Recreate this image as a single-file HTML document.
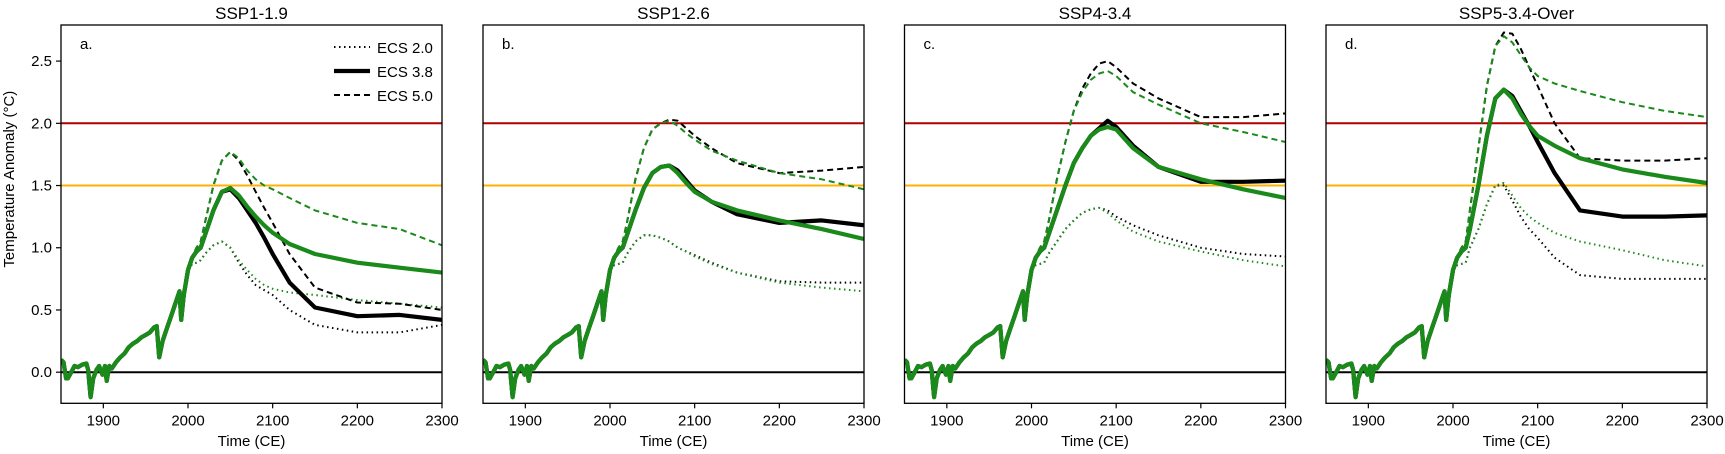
<!DOCTYPE html>
<html><head><meta charset="utf-8"><style>
body{margin:0;background:#fff;}
svg{display:block;font-family:"Liberation Sans","DejaVu Sans",sans-serif;}
</style></head><body>
<svg id="chart" width="1725" height="454" viewBox="0 0 1725 454" xmlns="http://www.w3.org/2000/svg"></svg>
<script>
// ---- data ----
const panelTitles = ["SSP1-1.9","SSP1-2.6","SSP4-3.4","SSP5-3.4-Over"];
const panelLetters = ["a.","b.","c.","d."];
const histYears = [1850,1853,1856,1858,1862,1866,1870,1875,1880,1882,1885,1888,1892,1895,1899,1902,1904,1907,1910,1915,1920,1925,1930,1935,1940,1945,1950,1955,1960,1963,1966,1970,1975,1980,1985,1990,1992,1995,2000];
const histVals = [0.1,0.08,-0.05,-0.05,0.0,0.05,0.04,0.06,0.07,0.02,-0.2,-0.05,0.02,0.05,-0.02,0.05,-0.07,0.05,0.03,0.08,0.12,0.15,0.2,0.23,0.25,0.28,0.3,0.32,0.36,0.37,0.12,0.25,0.35,0.45,0.55,0.65,0.42,0.62,0.82];
const scenYears = [2005,2010,2015,2020,2030,2040,2050,2060,2070,2080,2090,2100,2120,2150,2200,2250,2300];
// ECS 2.0 dotted (t), ECS 3.8 solid (s), ECS 5.0 dashed (d); k=black, g=green
const a_ks=[0.92,0.97,1.0,1.1,1.3,1.45,1.47,1.4,1.3,1.2,1.08,0.95,0.72,0.52,0.45,0.46,0.42];
const a_gs=[0.92,0.97,1.0,1.1,1.3,1.45,1.48,1.42,1.33,1.25,1.18,1.12,1.03,0.95,0.88,0.84,0.8];
const a_kd=[0.93,1.0,1.05,1.2,1.5,1.7,1.77,1.7,1.58,1.45,1.32,1.2,0.95,0.68,0.56,0.55,0.5];
const a_gd=[0.93,1.0,1.05,1.2,1.5,1.7,1.77,1.72,1.62,1.55,1.5,1.47,1.4,1.3,1.2,1.15,1.02];
const a_kt=[0.87,0.88,0.9,0.95,1.02,1.05,1.0,0.88,0.78,0.7,0.66,0.62,0.5,0.38,0.32,0.32,0.38];
const a_gt=[0.87,0.88,0.9,0.95,1.02,1.05,1.0,0.9,0.82,0.75,0.7,0.67,0.64,0.62,0.58,0.55,0.52];
const b_ks=[0.92,0.97,1.0,1.1,1.3,1.48,1.6,1.65,1.66,1.62,1.54,1.46,1.37,1.27,1.2,1.22,1.18];
const b_gs=[0.92,0.97,1.0,1.1,1.3,1.48,1.6,1.65,1.66,1.6,1.52,1.45,1.37,1.3,1.22,1.15,1.07];
const b_kd=[0.93,1.0,1.05,1.2,1.55,1.8,1.95,2.0,2.03,2.02,1.96,1.9,1.8,1.68,1.6,1.62,1.65];
const b_gd=[0.93,1.0,1.05,1.2,1.55,1.8,1.95,2.0,2.02,1.98,1.92,1.87,1.78,1.7,1.6,1.55,1.47];
const b_kt=[0.86,0.87,0.88,0.95,1.05,1.1,1.1,1.08,1.05,1.0,0.97,0.94,0.88,0.8,0.73,0.72,0.72];
const b_gt=[0.86,0.87,0.88,0.95,1.05,1.1,1.1,1.08,1.05,1.0,0.97,0.93,0.87,0.8,0.72,0.68,0.65];
const c_ks=[0.92,0.97,1.0,1.1,1.3,1.5,1.68,1.8,1.9,1.96,2.02,1.97,1.82,1.65,1.53,1.53,1.54];
const c_gs=[0.92,0.97,1.0,1.1,1.3,1.5,1.68,1.8,1.9,1.95,1.97,1.95,1.8,1.65,1.55,1.47,1.4];
const c_kd=[0.93,1.0,1.05,1.2,1.55,1.85,2.1,2.28,2.4,2.48,2.5,2.45,2.32,2.2,2.05,2.05,2.08];
const c_gd=[0.93,1.0,1.05,1.2,1.55,1.85,2.1,2.25,2.35,2.4,2.42,2.38,2.25,2.15,2.0,1.93,1.85];
const c_kt=[0.86,0.87,0.88,0.95,1.05,1.15,1.22,1.28,1.31,1.32,1.3,1.25,1.18,1.1,1.0,0.95,0.93];
const c_gt=[0.86,0.87,0.88,0.95,1.05,1.15,1.22,1.28,1.31,1.32,1.28,1.22,1.13,1.05,0.97,0.9,0.85];
const d_ks=[0.92,0.97,1.0,1.15,1.5,1.9,2.2,2.27,2.22,2.1,1.98,1.85,1.6,1.3,1.25,1.25,1.26];
const d_gs=[0.92,0.97,1.0,1.15,1.5,1.9,2.2,2.27,2.2,2.08,1.98,1.9,1.82,1.72,1.63,1.57,1.52];
const d_kd=[0.93,1.0,1.05,1.3,1.8,2.3,2.62,2.73,2.72,2.6,2.45,2.3,2.0,1.72,1.7,1.7,1.72];
const d_gd=[0.93,1.0,1.05,1.3,1.8,2.3,2.62,2.7,2.65,2.55,2.45,2.38,2.32,2.26,2.17,2.1,2.05];
const d_kt=[0.86,0.87,0.88,1.0,1.15,1.35,1.5,1.5,1.38,1.25,1.15,1.08,0.92,0.78,0.75,0.75,0.75];
const d_gt=[0.86,0.87,0.88,1.0,1.15,1.35,1.5,1.52,1.42,1.32,1.25,1.2,1.12,1.05,0.98,0.9,0.85];
const panelSeries = [
  {kt:a_kt,ks:a_ks,kd:a_kd,gt:a_gt,gs:a_gs,gd:a_gd},
  {kt:b_kt,ks:b_ks,kd:b_kd,gt:b_gt,gs:b_gs,gd:b_gd},
  {kt:c_kt,ks:c_ks,kd:c_kd,gt:c_gt,gs:c_gs,gd:c_gd},
  {kt:d_kt,ks:d_ks,kd:d_kd,gt:d_gt,gs:d_gs,gd:d_gd}
];
const xTicks = [1900,2000,2100,2200,2300];
const yTicks = [0.0,0.5,1.0,1.5,2.0,2.5];
const refLines = [{v:0,c:"#000"},{v:1.5,c:"#ffb000"},{v:2.0,c:"#b00000"}];
const legendLabels = ["ECS 2.0","ECS 3.8","ECS 5.0"];

// ---- layout ----
const NS="http://www.w3.org/2000/svg";
const svg=document.getElementById('chart');
const panelLeft=[61,483,904.5,1326], PW=381, PT=25, PB=403.3;
const XMIN=1850, XMAX=2300, YMIN=-0.25, YMAX=2.79;
function el(tag,attrs,parent){const e=document.createElementNS(NS,tag);for(const k in attrs)e.setAttribute(k,attrs[k]);(parent||svg).appendChild(e);return e;}
const styles={t:{w:2,da:"1.5,3.5"},s:{w:4.2,da:""},d:{w:2,da:"6,4"}};
const colors={k:"#000",g:"#1a8a1a"};

panelLeft.forEach((L,pi)=>{
  const xs=v=>L+(v-XMIN)/(XMAX-XMIN)*PW;
  const ys=v=>PB-(v-YMIN)/(YMAX-YMIN)*(PB-PT);
  const g=el('g',{});
  
  
  const t=el('text',{x:L+PW/2,y:19,'text-anchor':'middle','font-size':17},g);
  t.textContent=panelTitles[pi];
  
  
  const lt=el('text',{x:L+19,y:49,'font-size':15},g);
  lt.textContent=panelLetters[pi];
  
  
  const clipId='clip'+pi;
  const cp=el('clipPath',{id:clipId},g);el('rect',{x:L,y:PT,width:PW,height:PB-PT},cp);
  const plot=el('g',{'clip-path':'url(#'+clipId+')'},g);
  refLines.forEach(r=>{
    const ln=el('line',{x1:L,x2:L+PW,y1:ys(r.v),y2:ys(r.v),stroke:r.c,'stroke-width':2},plot);
    
    
  });
  const S=panelSeries[pi];
  ["kt","gt","kd","ks","gs","gd"].forEach(key=>{
    const col=colors[key[0]], st=styles[key[1]];
    const vals=S[key];
    let pts=histYears.map((y,i)=>xs(y).toFixed(1)+','+ys(histVals[i]).toFixed(1));
    pts=pts.concat(scenYears.map((y,i)=>xs(y).toFixed(1)+','+ys(vals[i]).toFixed(1)));
    const p=el('polyline',{points:pts.join(' '),fill:'none',stroke:col,'stroke-width':st.w,'stroke-dasharray':st.da,'stroke-linejoin':'round'},plot);
    
    
  });
  el('rect',{x:L,y:PT,width:PW,height:PB-PT,fill:'none',stroke:'#000','stroke-width':1.3},g);
  xTicks.forEach(v=>{
    el('line',{x1:xs(v),x2:xs(v),y1:PB,y2:PB+5,stroke:'#000','stroke-width':1.2},g);
    const tx=el('text',{x:xs(v),y:PB+22,'text-anchor':'middle','font-size':15},g);
    tx.textContent=v;
    
    
  });
  const xl=el('text',{x:L+PW/2,y:446,'text-anchor':'middle','font-size':15},g);
  xl.textContent='Time (CE)';
  
  
  if(pi===0){
    yTicks.forEach(v=>{
      el('line',{x1:L-5,x2:L,y1:ys(v),y2:ys(v),stroke:'#000','stroke-width':1.2},g);
      const ty=el('text',{x:L-9,y:ys(v)+5,'text-anchor':'end','font-size':15},g);
      ty.textContent=v.toFixed(1);
      
      
    });
    const yl=el('text',{x:14,y:(PT+PB)/2-35,'text-anchor':'middle','font-size':15,transform:'rotate(-90 14 '+((PT+PB)/2-35)+')'},g);
    yl.textContent='Temperature Anomaly (°C)';
    
    
    const lg=el('g',{},g);
    
    
    ["t","s","d"].forEach((k,i)=>{
      const y=47+i*24;
      el('line',{x1:L+273,x2:L+309,y1:y,y2:y,stroke:'#000','stroke-width':styles[k].w,'stroke-dasharray':styles[k].da},lg);
      const tt=el('text',{x:L+316,y:y+6,'font-size':15},lg);
      tt.textContent=legendLabels[i];
      
      
    });
  }
});
</script>
</body></html>
